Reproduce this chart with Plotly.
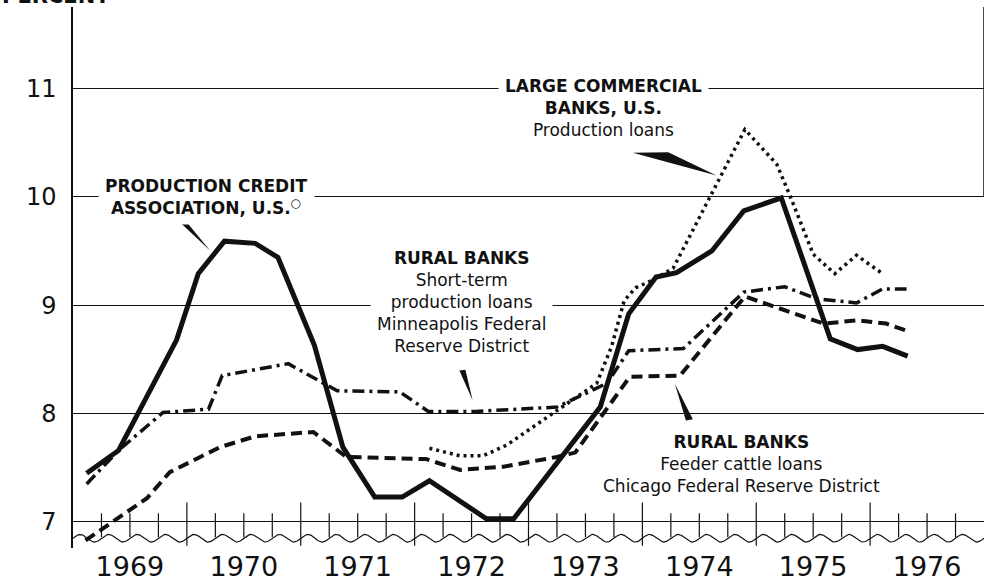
import numpy as np
import plotly.graph_objects as go

# ── data (x in fractional years, y in percent) ────────────────────────────────

YEARS = [1969, 1970, 1971, 1972, 1973, 1974, 1975, 1976]
Y_TICKS = [7, 8, 9, 10, 11]

# Production Credit Association, U.S. (solid)
PCA_T = [1969.12, 1969.40, 1969.91, 1970.10, 1970.33, 1970.60, 1970.80, 1971.12,
         1971.37, 1971.65, 1971.89, 1972.13, 1972.63, 1972.87, 1973.63, 1973.88,
         1974.12, 1974.30, 1974.61, 1974.89, 1975.22, 1975.65, 1975.89, 1976.11,
         1976.33]
PCA_V = [7.45, 7.66, 8.68, 9.29, 9.59, 9.57, 9.44, 8.63,
         7.69, 7.23, 7.23, 7.38, 7.03, 7.03, 8.06, 8.92,
         9.26, 9.30, 9.50, 9.87, 9.99, 8.69, 8.59, 8.62,
         8.53]

# Large commercial banks, U.S. production loans (dotted)
LCB_T = [1972.13, 1972.40, 1972.60, 1972.81, 1973.10, 1973.33, 1973.60, 1973.73,
         1973.84, 1973.94, 1974.09, 1974.27, 1974.90, 1975.18, 1975.30, 1975.50,
         1975.69, 1975.88, 1976.11]
LCB_V = [7.68, 7.61, 7.61, 7.71, 7.92, 8.09, 8.28, 8.62,
         9.04, 9.16, 9.23, 9.34, 10.62, 10.30, 10.00, 9.47,
         9.29, 9.46, 9.29]

# Rural banks, Minneapolis district short-term production loans (dash-dot)
MPLS_T = [1969.12, 1969.40, 1969.79, 1970.19, 1970.31, 1970.89, 1971.32, 1971.87,
          1972.12, 1972.54, 1973.25, 1973.69, 1973.88, 1974.36, 1974.89, 1975.25,
          1975.53, 1975.88, 1976.11, 1976.32]
MPLS_V = [7.35, 7.66, 8.01, 8.04, 8.35, 8.46, 8.21, 8.20,
          8.02, 8.02, 8.06, 8.28, 8.58, 8.60, 9.12, 9.17,
          9.06, 9.02, 9.15, 9.15]

# Rural banks, Chicago district feeder cattle loans (dashed)
CHI_T = [1969.11, 1969.65, 1969.85, 1970.29, 1970.60, 1971.11, 1971.40, 1972.10,
         1972.40, 1972.78, 1973.25, 1973.41, 1973.89, 1974.33, 1974.90, 1975.59,
         1975.89, 1976.14, 1976.33]
CHI_V = [6.83, 7.22, 7.46, 7.69, 7.79, 7.83, 7.60, 7.58,
         7.48, 7.51, 7.60, 7.64, 8.34, 8.35, 9.08, 8.83,
         8.86, 8.83, 8.76]

# ── styling ───────────────────────────────────────────────────────────────────

INK = "#111111"
FONT = "DejaVu Sans"
X_RANGE = [1969, 1977]
Y_RANGE = [6.76, 11.75]

fig = go.Figure()

# quarter ticks crossing the 7 % line
tx, ty = [], []
for q in np.arange(1969.25, 1977.0, 0.25):
    long_tick = abs(q - round(q)) < 1e-6
    tx += [q, q, None]
    ty += [6.78 if long_tick else 6.86, 7.18 if long_tick else 7.08, None]
fig.add_trace(go.Scatter(x=tx, y=ty, mode="lines", hoverinfo="skip",
                         line=dict(color=INK, width=1.2)))

# wavy "broken axis" line under the ticks
wx = np.linspace(1969, 1977, 900)
wy = 6.85 + 0.035 * np.sin(2 * np.pi * (wx - 1969) / 0.25)
fig.add_trace(go.Scatter(x=wx, y=wy, mode="lines", hoverinfo="skip",
                         line=dict(color=INK, width=1.2)))

series = [
    (CHI_T, CHI_V, dict(width=4, dash="11px,6px")),
    (MPLS_T, MPLS_V, dict(width=3.5, dash="12px,5px,3px,5px")),
    (LCB_T, LCB_V, dict(width=3.5, dash="3px,4px")),
    (PCA_T, PCA_V, dict(width=5)),
]
for t, v, ln in series:
    fig.add_trace(go.Scatter(x=t, y=v, mode="lines", hoverinfo="skip",
                             line=dict(color=INK, **ln)))

# wedge pointers from labels to lines
pointers = [
    [(1969.922, 9.781), (1970.001, 9.762), (1970.203, 9.504)],
    [(1973.917, 10.405), (1974.227, 10.410), (1974.651, 10.195)],
    [(1972.393, 8.398), (1972.446, 8.403), (1972.509, 8.122)],
    [(1974.285, 8.276), (1974.382, 7.937), (1974.443, 7.947)],
]
for pts in pointers:
    path = "M " + " L ".join(f"{a},{b}" for a, b in pts) + " Z"
    fig.add_shape(type="path", path=path, xref="x", yref="y",
                  fillcolor=INK, line=dict(width=0))

# right frame edge at the top
fig.add_shape(type="line", xref="x", yref="y", x0=1977, x1=1977, y0=10, y1=11.75,
              line=dict(color=INK, width=1.5))

label_font = dict(family=FONT, size=17, color=INK)
labels = [
    (1970.176, 9.997, "<b>PRODUCTION CREDIT<br>ASSOCIATION, U.S.<sup>○</sup></b>", "white"),
    (1973.662, 10.818, "<b>LARGE COMMERCIAL<br>BANKS, U.S.</b><br>Production loans", "white"),
    (1972.415, 9.03, "<b>RURAL BANKS</b><br>Short-term<br>production loans<br>"
                     "Minneapolis Federal<br>Reserve District", "white"),
    (1974.874, 7.538, "<b>RURAL BANKS</b><br>Feeder cattle loans<br>"
                      "Chicago Federal Reserve District", "rgba(0,0,0,0)"),
]
for x, y, text, bg in labels:
    fig.add_annotation(x=x, y=y, xref="x", yref="y", text=text, showarrow=False,
                       xanchor="center", yanchor="middle", align="center",
                       font=label_font, bgcolor=bg, borderpad=6)

# axis title, mostly cut off by the top edge
fig.add_annotation(x=-73 / 911, y=0.995, xref="paper", yref="paper",
                   text="<b>PERCENT</b>", showarrow=False,
                   xanchor="left", yanchor="bottom",
                   font=dict(family=FONT, size=21, color=INK))

fig.update_layout(
    width=984, height=581,
    margin=dict(l=73, r=0, t=7, b=33, autoexpand=False),
    plot_bgcolor="white", paper_bgcolor="white",
    showlegend=False,
    font=dict(family=FONT, color=INK),
    xaxis=dict(
        range=X_RANGE, showgrid=False, zeroline=False, showline=False,
        tickvals=[yr + 0.5 for yr in YEARS], ticktext=[str(yr) for yr in YEARS],
        ticks="", tickfont=dict(family=FONT, size=27, color=INK),
        ticklabelstandoff=0, automargin=False, fixedrange=True,
    ),
    yaxis=dict(
        range=Y_RANGE, tickvals=Y_TICKS, ticktext=[str(v) for v in Y_TICKS],
        showgrid=True, gridcolor=INK, gridwidth=1.3, zeroline=False,
        showline=True, linecolor=INK, linewidth=1.5,
        ticks="", tickfont=dict(family=FONT, size=24, color=INK),
        ticklabelstandoff=10, automargin=False, fixedrange=True,
    ),
)

# the page body has a default 8px margin; drop it so the figure fills the window
fig.write_html("out.html", config={"displayModeBar": False},
               post_script="document.body.style.margin = '0';")
